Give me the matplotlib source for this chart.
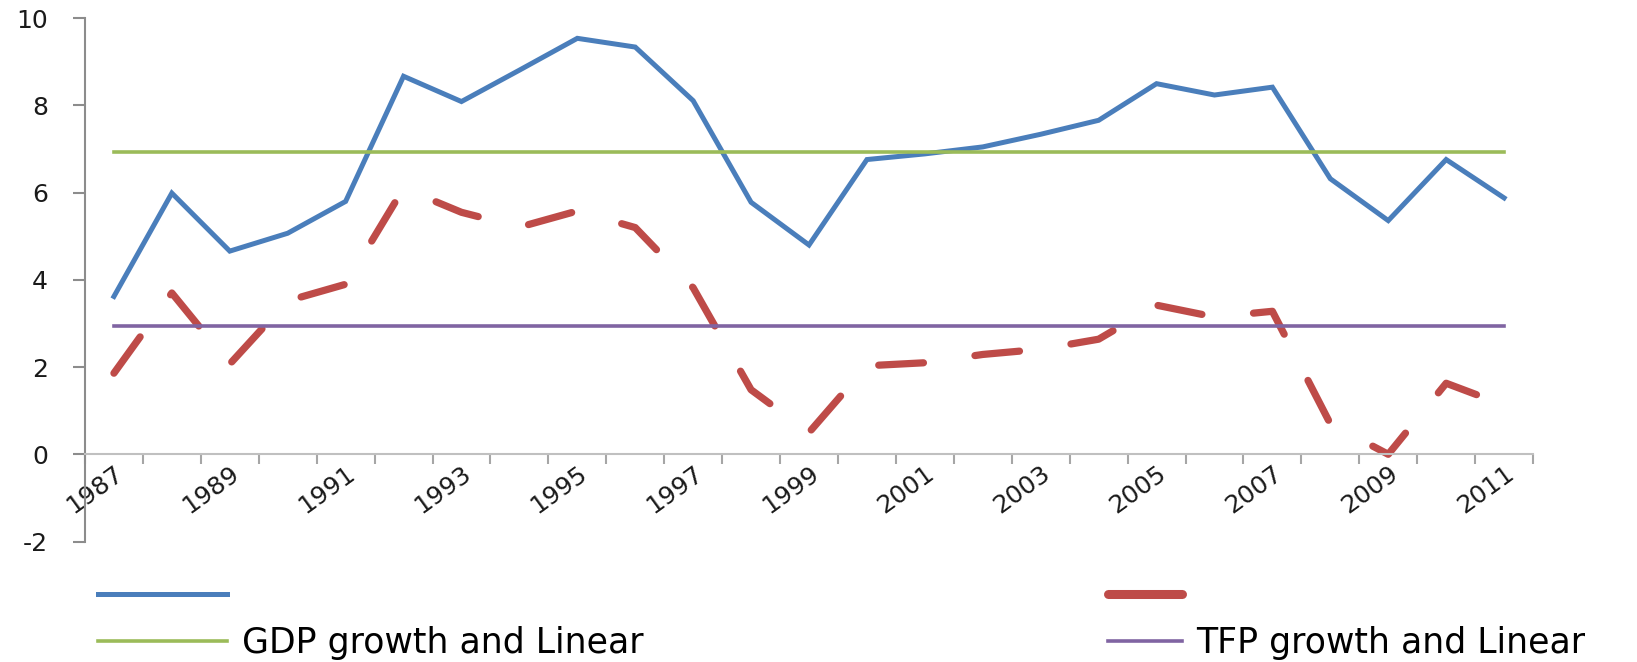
import numpy as np
import matplotlib
matplotlib.use("Agg")
import matplotlib.pyplot as plt
from matplotlib.lines import Line2D

plt.rcParams["axes.unicode_minus"] = False

# annual growth rates, %
years = list(range(1987, 2012))
gdp_growth = [3.62, 5.99, 4.66, 5.07, 5.80, 8.67, 8.09, 8.81, 9.54, 9.34,
              8.11, 5.78, 4.80, 6.76, 6.89, 7.05, 7.34, 7.66, 8.50, 8.24,
              8.42, 6.32, 5.36, 6.76, 5.88]
tfp_growth = [1.86, 3.70, 2.07, 3.52, 3.90, 6.10, 5.55, 5.21, 5.58, 5.20,
              3.82, 1.48, 0.50, 2.03, 2.10, 2.29, 2.41, 2.64, 3.42, 3.15,
              3.28, 0.70, 0.00, 1.63, 1.13]
gdp_linear = 6.94
tfp_linear = 2.94

blue = "#4a7ebb"
red = "#be4b48"
green = "#9bbb59"
purple = "#8064a2"

fig = plt.figure(figsize=(16.37, 6.62), dpi=100)
ax = fig.add_axes([0.0519, 0.182, 0.8846, 0.7904])

x = np.arange(len(years))
l_gdp, = ax.plot(x, gdp_growth, color=blue, lw=3.6, solid_joinstyle="miter")
l_tfp, = ax.plot(x, tfp_growth, color=red, lw=5.2, linestyle=(0, (6.2, 7.2)),
                 dash_capstyle="round")
l_gl, = ax.plot(x, [gdp_linear] * len(x), color=green, lw=2.6)
l_tl, = ax.plot(x, [tfp_linear] * len(x), color=purple, lw=2.6)

ax.set_xlim(-0.5, len(years) - 0.5)
ax.set_ylim(-2, 10)
ax.set_yticks(np.arange(-2, 11, 2))

for s in ("top", "right"):
    ax.spines[s].set_visible(False)
ax.spines["bottom"].set_position(("data", 0))
ax.spines["bottom"].set_color("#c0c0c0")
ax.spines["bottom"].set_linewidth(1.5)
ax.spines["left"].set_color("#8c8c8c")
ax.spines["left"].set_linewidth(1.5)

# tick marks between categories, year labels at every second category
ax.set_xticks(np.arange(-0.5, len(years), 1))
ax.set_xticklabels([])
ax.tick_params(axis="x", which="major", length=7, width=1.5, color="#a6a6a6")
ax.set_xticks(x[::2], [str(y) for y in years[::2]], minor=True)
ax.tick_params(axis="x", which="minor", length=0, pad=5, labelsize=18,
               labelcolor="#1a1a1a")
for lab in ax.get_xticklabels(minor=True):
    lab.set_rotation(36)
    lab.set_ha("right")
    lab.set_va("top")
    lab.set_rotation_mode("anchor")

ax.tick_params(axis="y", length=8.6, width=1.5, color="#8c8c8c", pad=18,
               labelsize=18, labelcolor="#1a1a1a")

fs = 25
leg1 = fig.legend([l_gdp, l_gl], ["", "GDP growth and Linear"],
                  loc="upper left", bbox_to_anchor=(0.060, 0.1246),
                  frameon=False, fontsize=fs, handlelength=3.72,
                  handletextpad=0.43, borderpad=0, borderaxespad=0,
                  labelspacing=0.37)
red_proxy = Line2D([], [], color=red, lw=6.5, solid_capstyle="round")
leg2 = fig.legend([red_proxy, l_tl], ["", "TFP growth and Linear"],
                  loc="upper left", bbox_to_anchor=(0.677, 0.1246),
                  frameon=False, fontsize=fs, handlelength=2.11,
                  handletextpad=0.43, borderpad=0, borderaxespad=0,
                  labelspacing=0.37)

fig.savefig("out.png", dpi=100)
